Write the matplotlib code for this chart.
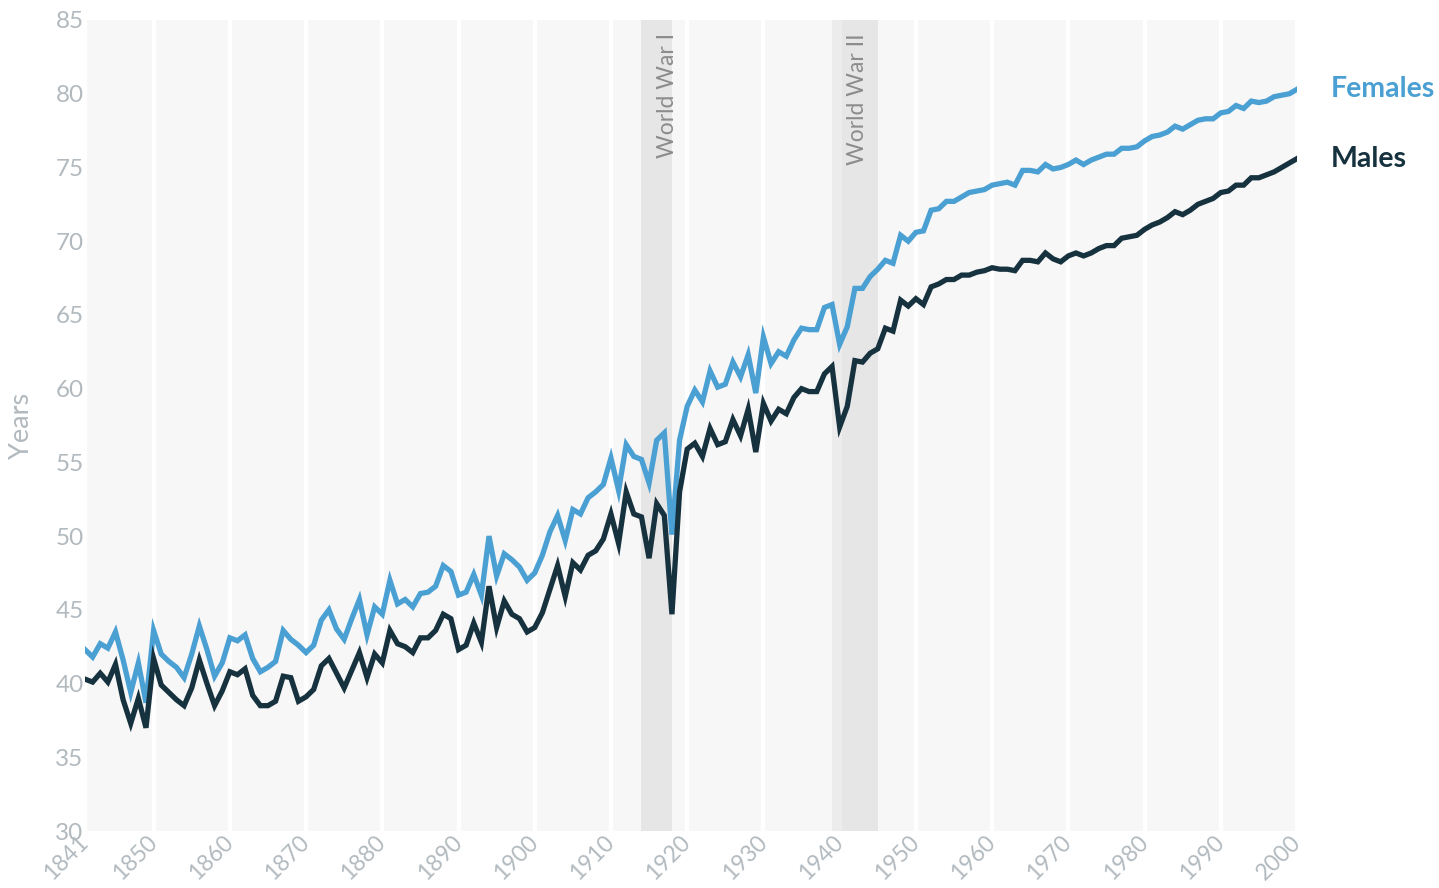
import matplotlib
matplotlib.use("Agg")
import matplotlib.pyplot as plt

plt.rcParams['font.family'] = ['Lato', 'DejaVu Sans']

# Life expectancy at birth, 1841-2000
years = list(range(1841, 2001))

females = [
    42.3, 41.8, 42.7, 42.4, 43.5, 41.6, 39.4, 41.4, 38.7, 43.6,
    42.0, 41.5, 41.1, 40.4, 42.0, 43.9, 42.3, 40.5, 41.4, 43.1,
    42.9, 43.3, 41.7, 40.8, 41.1, 41.5, 43.6, 43.0, 42.6, 42.1,
    42.6, 44.3, 45.0, 43.7, 43.0, 44.4, 45.7, 43.3, 45.2, 44.7,
    47.0, 45.4, 45.7, 45.2, 46.1, 46.2, 46.6, 48.0, 47.6, 46.0,
    46.2, 47.4, 46.0, 50.0, 47.3, 48.8, 48.4, 47.9, 47.0, 47.5,
    48.7, 50.3, 51.4, 49.7, 51.8, 51.5, 52.6, 53.0, 53.5, 55.3,
    53.1, 56.2, 55.4, 55.2, 53.6, 56.5, 57.0, 50.1, 56.5, 58.8,
    59.9, 59.1, 61.2, 60.1, 60.3, 61.8, 60.8, 62.3, 59.7, 63.5,
    61.7, 62.5, 62.2, 63.3, 64.1, 64.0, 64.0, 65.5, 65.7, 63.0,
    64.2, 66.8, 66.8, 67.6, 68.1, 68.7, 68.5, 70.4, 70.0, 70.6,
    70.7, 72.1, 72.2, 72.7, 72.7, 73.0, 73.3, 73.4, 73.5, 73.8,
    73.9, 74.0, 73.8, 74.8, 74.8, 74.7, 75.2, 74.9, 75.0, 75.2,
    75.5, 75.2, 75.5, 75.7, 75.9, 75.9, 76.3, 76.3, 76.4, 76.8,
    77.1, 77.2, 77.4, 77.8, 77.6, 77.9, 78.2, 78.3, 78.3, 78.7,
    78.8, 79.2, 79.0, 79.5, 79.4, 79.5, 79.8, 79.9, 80.0, 80.3,
]

males = [
    40.3, 40.1, 40.7, 40.1, 41.3, 38.9, 37.3, 39.0, 37.0, 41.7,
    39.9, 39.4, 38.9, 38.5, 39.7, 41.6, 40.0, 38.5, 39.5, 40.8,
    40.6, 41.0, 39.2, 38.5, 38.5, 38.8, 40.5, 40.4, 38.8, 39.1,
    39.6, 41.2, 41.7, 40.7, 39.7, 40.9, 42.1, 40.4, 42.0, 41.4,
    43.6, 42.7, 42.5, 42.1, 43.1, 43.1, 43.6, 44.7, 44.4, 42.3,
    42.6, 44.1, 42.8, 46.6, 43.8, 45.6, 44.7, 44.4, 43.5, 43.8,
    44.8, 46.4, 48.0, 45.9, 48.2, 47.7, 48.7, 49.0, 49.8, 51.5,
    49.5, 53.0, 51.5, 51.3, 48.5, 52.2, 51.4, 44.7, 53.0, 55.9,
    56.3, 55.4, 57.3, 56.2, 56.4, 57.9, 56.8, 58.6, 55.7, 59.0,
    57.8, 58.6, 58.3, 59.4, 60.0, 59.8, 59.8, 61.0, 61.5, 57.4,
    58.8, 61.9, 61.8, 62.4, 62.7, 64.1, 63.9, 66.0, 65.6, 66.1,
    65.7, 66.9, 67.1, 67.4, 67.4, 67.7, 67.7, 67.9, 68.0, 68.2,
    68.1, 68.1, 68.0, 68.7, 68.7, 68.6, 69.2, 68.8, 68.6, 69.0,
    69.2, 69.0, 69.2, 69.5, 69.7, 69.7, 70.2, 70.3, 70.4, 70.8,
    71.1, 71.3, 71.6, 72.0, 71.8, 72.1, 72.5, 72.7, 72.9, 73.3,
    73.4, 73.8, 73.8, 74.3, 74.3, 74.5, 74.7, 75.0, 75.3, 75.6,
]

x_ticks = [1841] + list(range(1850, 2001, 10))
y_ticks = list(range(30, 90, 5))

wars = [("World War I", 1914, 1918), ("World War II", 1939, 1945)]

female_color = "#4a9fd3"
male_color = "#17323f"
tick_color = "#b2babf"

fig = plt.figure(figsize=(14.39, 8.88), dpi=100)
ax = fig.add_axes([85 / 1439, 57 / 888, 1212 / 1439, 811 / 888])
ax.set_facecolor("#f7f7f7")

# white vertical grid on decades
ax.set_xticks(x_ticks)
ax.set_yticks(y_ticks)
ax.grid(axis="x", color="white", linewidth=3.2, zorder=0.5)
ax.set_axisbelow(True)

# war bands
for name, start, end in wars:
    if name == "World War II":
        ax.axvspan(start, start + 1.3, color="#ececec", lw=0, zorder=1)
        ax.axvspan(start + 1.3, end, color="#e6e6e6", lw=0, zorder=1)
    else:
        ax.axvspan(start, end, color="#e6e6e6", lw=0, zorder=1)
    ax.text(start + 2, 84.1, name, rotation=90, ha="left", va="top",
            fontsize=16.5, color="#8c8c8c", zorder=2)

ax.plot(years, females, color=female_color, lw=3.8, zorder=3,
        solid_joinstyle="miter")
ax.plot(years, males, color=male_color, lw=3.8, zorder=3,
        solid_joinstyle="miter")

# end labels
ax.annotate("Females", (years[-1], females[-1]), xytext=(24, 0),
            textcoords="offset points", va="center", ha="left",
            fontsize=20.5, fontweight="bold", color=female_color,
            annotation_clip=False)
ax.annotate("Males", (years[-1], males[-1]), xytext=(24, 0),
            textcoords="offset points", va="center", ha="left",
            fontsize=20.5, fontweight="bold", color=male_color,
            annotation_clip=False)

ax.set_xlim(1841, 2000)
ax.set_ylim(30, 85)

for s in ax.spines.values():
    s.set_visible(False)

ax.tick_params(axis="y", length=0, colors=tick_color, labelsize=17.5, pad=1)
ax.tick_params(axis="x", length=0, colors=tick_color, labelsize=16.5, pad=6)
for lbl in ax.get_xticklabels():
    lbl.set_rotation(45)
    lbl.set_ha("right")
    lbl.set_va("center")
    lbl.set_rotation_mode("anchor")

ax.set_ylabel("Years", fontsize=19.5, color=tick_color)
ax.yaxis.set_label_coords(-0.042, 0.5)

plt.savefig("out.png", dpi=100)
plt.close()
